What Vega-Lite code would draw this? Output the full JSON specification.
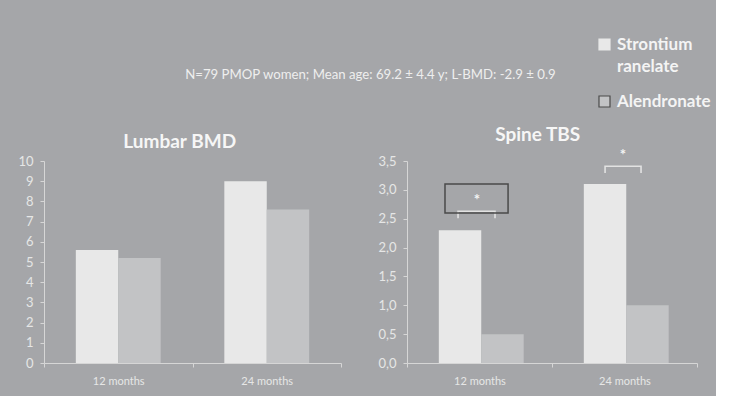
{
  "$schema": "https://vega.github.io/schema/vega-lite/v6.json",
  "background": "#a5a6a9",
  "padding": {"left": 17, "top": 36, "right": 5, "bottom": 10},
  "title": {
    "text": "N=79 PMOP women; Mean age: 69.2 ± 4.4 y; L-BMD: -2.9 ± 0.9",
    "font": "Lato",
    "fontSize": 13.2,
    "fontWeight": "normal",
    "color": "#eeeeee",
    "anchor": "middle",
    "offset": -46,
    "dx": 6
  },
  "datasets": {
    "bmd": [
      {"time": "12 months", "treatment": "Strontium ranelate", "value": 5.6},
      {"time": "12 months", "treatment": "Alendronate", "value": 5.2},
      {"time": "24 months", "treatment": "Strontium ranelate", "value": 9.0},
      {"time": "24 months", "treatment": "Alendronate", "value": 7.6}
    ],
    "tbs": [
      {"time": "12 months", "treatment": "Strontium ranelate", "value": 2.3},
      {"time": "12 months", "treatment": "Alendronate", "value": 0.5},
      {"time": "24 months", "treatment": "Strontium ranelate", "value": 3.1},
      {"time": "24 months", "treatment": "Alendronate", "value": 1.0}
    ],
    "brackets": [
      {"bracket": "a", "ord": 1, "pos": 0.352, "value": 2.51},
      {"bracket": "a", "ord": 2, "pos": 0.352, "value": 2.63},
      {"bracket": "a", "ord": 3, "pos": 0.607, "value": 2.63},
      {"bracket": "a", "ord": 4, "pos": 0.607, "value": 2.51},
      {"bracket": "b", "ord": 1, "pos": 1.366, "value": 3.29},
      {"bracket": "b", "ord": 2, "pos": 1.366, "value": 3.41},
      {"bracket": "b", "ord": 3, "pos": 1.614, "value": 3.41},
      {"bracket": "b", "ord": 4, "pos": 1.614, "value": 3.29}
    ],
    "stars": [
      {"pos": 0.483, "value": 2.88, "label": "*"},
      {"pos": 1.49, "value": 3.66, "label": "*"}
    ],
    "box": [
      {"pos": 0.262, "pos2": 0.697, "value": 2.6, "value2": 3.1}
    ]
  },
  "spacing": 35,
  "hconcat": [
    {
      "width": 297,
      "height": 202,
      "title": {"text": "Lumbar BMD", "frame": "bounds"},
      "data": {"name": "bmd"},
      "mark": {"type": "bar", "strokeWidth": 0},
      "encoding": {
        "x": {"field": "time", "type": "nominal", "title": null,
              "scale": {"paddingInner": 0, "paddingOuter": 0},
              "axis": {"tickBand": "extent", "labelAngle": 0}},
        "xOffset": {"field": "treatment", "sort": ["Strontium ranelate", "Alendronate"],
                    "scale": {"paddingInner": 0, "paddingOuter": 0.75}},
        "y": {"field": "value", "type": "quantitative", "title": null,
              "scale": {"domain": [0, 10], "nice": false},
              "axis": {"values": [0,1,2,3,4,5,6,7,8,9,10]}},
        "color": {"field": "treatment", "type": "nominal", "title": null,
                  "scale": {"domain": ["Strontium ranelate", "Alendronate"], "range": ["#e8e8e8", "#c2c3c5"]},
                  "legend": {
                    "orient": "none", "legendX": 552, "legendY": -125,
                    "labelExpr": "datum.label == 'Strontium ranelate' ? ['Strontium', 'ranelate'] : datum.label",
                    "encode": {
                      "symbols": {"update": {"stroke": {"signal": "datum.value == 'Alendronate' ? '#4a4a4a' : '#e8e8e8'"}, "strokeWidth": {"value": 1.2}}},
                      "labels": {"update": {"lineHeight": {"value": 22}}}
                    }
                  }}
      }
    },
    {
      "width": 290,
      "height": 202,
      "title": {"text": "Spine TBS", "frame": "bounds"},
      "encoding": {
        "y": {"field": "value", "type": "quantitative", "title": null,
              "scale": {"domain": [0, 3.5], "nice": false},
              "axis": {"values": [0, 0.5, 1, 1.5, 2, 2.5, 3, 3.5],
                       "labelExpr": "replace(format(datum.value, '.1f'), '.', ',')"}}
      },
      "layer": [
        {
          "data": {"name": "tbs"},
          "mark": {"type": "bar", "strokeWidth": 0},
          "encoding": {
            "x": {"field": "time", "type": "nominal", "title": null,
                  "scale": {"paddingInner": 0, "paddingOuter": 0},
                  "axis": {"tickBand": "extent", "labelAngle": 0}},
            "xOffset": {"field": "treatment", "sort": ["Strontium ranelate", "Alendronate"],
                        "scale": {"paddingInner": 0, "paddingOuter": 0.75}},
            "color": {"field": "treatment", "type": "nominal"}
          }
        },
        {
          "data": {"name": "brackets"},
          "mark": {"type": "line", "color": "#e2e2e2", "strokeWidth": 1.6},
          "encoding": {
            "x": {"field": "pos", "type": "quantitative", "scale": {"domain": [0, 2], "nice": false, "zero": false}, "axis": null},
            "detail": {"field": "bracket"},
            "order": {"field": "ord"}
          }
        },
        {
          "data": {"name": "box"},
          "mark": {"type": "rect", "fill": null, "fillOpacity": 0, "stroke": "#4a4a4a", "strokeWidth": 1.5},
          "encoding": {
            "x": {"field": "pos", "type": "quantitative", "scale": {"domain": [0, 2], "nice": false, "zero": false}, "axis": null},
            "x2": {"field": "pos2"},
            "y2": {"field": "value2"}
          }
        },
        {
          "data": {"name": "stars"},
          "mark": {"type": "text", "color": "#f4f4f4", "fontSize": 15, "fontWeight": "bold", "font": "Lato", "baseline": "middle", "dy": 3},
          "encoding": {
            "x": {"field": "pos", "type": "quantitative", "scale": {"domain": [0, 2], "nice": false, "zero": false}, "axis": null},
            "text": {"field": "label"}
          }
        }
      ],
      "resolve": {"scale": {"x": "independent"}, "axis": {"x": "independent"}}
    }
  ],
  "config": {
    "font": "Lato",
    "view": {"stroke": null},
    "title": {"font": "Lato", "fontSize": 19, "fontWeight": "bold", "color": "#f6f6f6", "offset": 3},
    "axis": {
      "grid": false,
      "domainColor": "#d6d6d6",
      "tickColor": "#d6d6d6",
      "labelColor": "#e6e6e6",
      "labelFont": "Lato",
      "tickSize": 4,
      "domainWidth": 1,
      "tickWidth": 1
    },
    "axisY": {"labelFontSize": 13, "labelPadding": 7},
    "axisX": {"labelFontSize": 11, "labelPadding": 8},
    "legend": {
      "labelFont": "Lato",
      "labelFontSize": 17,
      "labelFontWeight": "bold",
      "labelColor": "#f4f4f4",
      "symbolType": "square",
      "symbolSize": 121,
      "rowPadding": 17,
      "labelOffset": 4
    }
  }
}
